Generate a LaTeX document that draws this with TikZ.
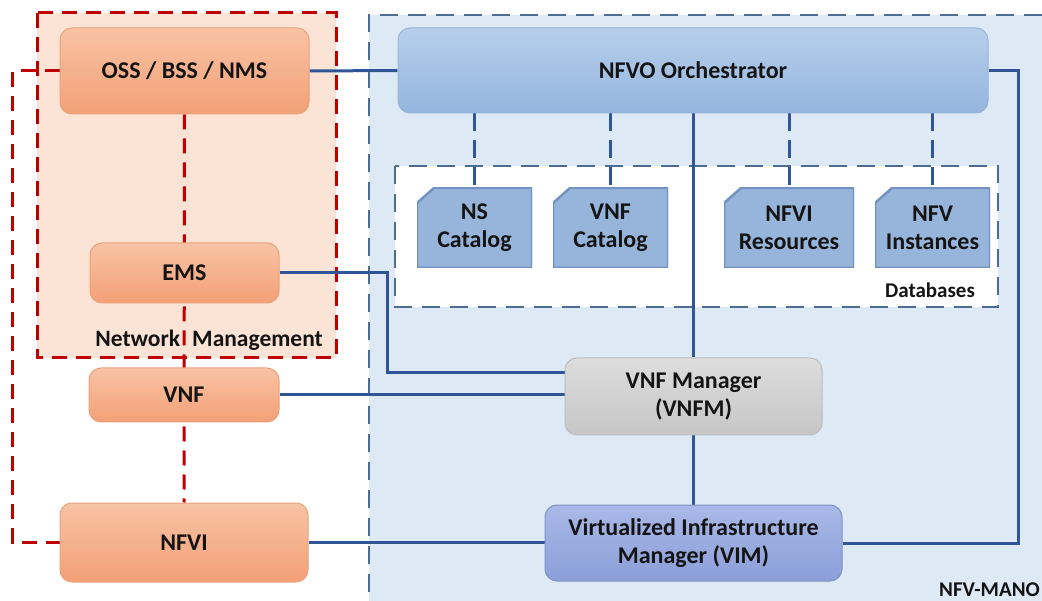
\documentclass[tikz,border=0pt]{standalone}
\usepackage{fontspec}
\setmainfont{Carlito}
\usetikzlibrary{backgrounds}
\definecolor{txt}{HTML}{141414}
\definecolor{orT}{HTML}{F8C3A5}
\definecolor{orB}{HTML}{F3A076}
\definecolor{orD}{HTML}{E9A27C}
\definecolor{peach}{HTML}{FBE4D6}
\definecolor{mgred}{HTML}{C00000}
\definecolor{manofill}{HTML}{DDEAF6}
\definecolor{manodash}{HTML}{4D6C91}
\definecolor{nfvoT}{HTML}{B6CFEC}
\definecolor{nfvoB}{HTML}{94B5DE}
\definecolor{nfvoD}{HTML}{9AB5D8}
\definecolor{catblue}{HTML}{97B5DB}
\definecolor{catedge}{HTML}{7393C0}
\definecolor{grT}{HTML}{DDDDDD}
\definecolor{grB}{HTML}{C6C6C6}
\definecolor{grD}{HTML}{BDBDBD}
\definecolor{vimT}{HTML}{A9B9E7}
\definecolor{vimB}{HTML}{8B9ED8}
\definecolor{vimD}{HTML}{7E92C8}
\definecolor{lnblue}{HTML}{2F5597}
\begin{document}
\begin{tikzpicture}[x=1pt,y=-1pt,
  font=\fontsize{24}{28}\selectfont\bfseries, text=txt,
  box/.style={rounded corners=12pt, line width=1pt, align=center, inner sep=0pt},
  orangebox/.style={box, top color=orT, bottom color=orB, draw=orD},
  nfvobox/.style={box, top color=nfvoT, bottom color=nfvoB, draw=nfvoD},
  graybox/.style={box, top color=grT, bottom color=grB, draw=grD},
  vimbox/.style={box, top color=vimT, bottom color=vimB, draw=vimD},
  catalog/.style={minimum width=115pt, minimum height=80pt, align=center, inner sep=0pt, fill=white,
    path picture={\fill[catblue, draw=catedge, line width=2.5pt]
      ([xshift=17pt]path picture bounding box.north west) -- (path picture bounding box.north east)
      -- (path picture bounding box.south east) -- (path picture bounding box.south west)
      -- ([yshift=-15pt]path picture bounding box.north west) -- cycle;}},
  lbl/.style={font=\fontsize{21}{24}\selectfont\bfseries, inner sep=0pt},
  bluelink/.style={draw=lnblue, line width=3pt},
  dashlink/.style={bluelink, dash pattern=on 18pt off 9pt},
  redlink/.style={draw=mgred, line width=3pt, dash pattern=on 15pt off 9pt},
  regiondash/.style={draw=manodash, line width=2.5pt, dash pattern=on 18pt off 10pt}]
\useasboundingbox (0,0) rectangle (1042,601);

% network management side
\node[orangebox, minimum width=249pt, minimum height=86pt] (oss) at (184.5,71) {OSS / BSS / NMS};
\node[orangebox, minimum width=189pt, minimum height=60pt] (ems) at (184.5,273) {EMS};
\node[orangebox, minimum width=190pt, minimum height=54pt] (vnf) at (184,395) {VNF};
\node[orangebox, minimum width=248pt, minimum height=79pt] (nfvi) at (184,542.5) {NFVI};
\node[lbl, font=\fontsize{23.5}{28}\selectfont\bfseries, anchor=base east] (nmlabel) at (323,347) {Network\hspace{12pt}Management};

% MANO side
\node[nfvobox, minimum width=590pt, minimum height=85pt] (nfvo) at (693,70.5) {NFVO Orchestrator};
\node[catalog] (nscat) at (474.5,228) {NS\\Catalog};
\node[catalog] (vnfcat) at (610.5,228) {VNF\\Catalog};
\node[catalog, minimum width=130pt] (nfvires) at (789,228) {NFVI\\Resources};
\node[catalog] (nfvinst) at (932.5,228) {NFV\\Instances};
\node[lbl, anchor=base] (dblabel) at (930,298) {Databases};
\node[graybox, minimum width=257pt, minimum height=77pt] (vnfm) at (693.5,396.5) {VNF Manager\\(VNFM)};
\node[vimbox, minimum width=297pt, minimum height=76pt] (vim) at (693.5,543) {Virtualized Infrastructure\\Manager (VIM)};
\node[lbl, anchor=base east] (manolabel) at (1040,596) {NFV-MANO};

\begin{pgfonlayer}{background}
% regions
\fill[white] (0,0) rectangle (1042,601);
\fill[peach] (37,13) rectangle (336,358);
\draw[redlink] (37,13) rectangle (336,358);
\fill[manofill] (369,15) rectangle (1042,601);
\draw[regiondash] (1042,15) -- (369,15) -- (369,601);
\filldraw[fill=white, regiondash] (395,166) rectangle (998,307);
% links
\draw[redlink] (oss.west) -- ++(-47,0) |- (nfvi.west);
\draw[redlink] (oss.south) -- (nfvi.north);
\draw[bluelink] (oss.east) -- (nfvo.west);
\draw[bluelink] (nfvo.east) -- ++(30,0) |- (vim.east);
\draw[bluelink] (vnfm.north |- nfvo.south) -- (vnfm.north);
\draw[bluelink] (vnfm.south) -- (vim.north);
\draw[bluelink] (ems.east) -- ++(108,0) |- ([yshift=23.5pt]vnfm.west);
\draw[bluelink] (vnf.east) -- (vnf.east -| vnfm.west);
\draw[bluelink] (nfvi.east) -- (nfvi.east -| vim.west);
\foreach \c in {nscat,vnfcat,nfvires,nfvinst}
  \draw[dashlink] (\c.north |- nfvo.south) -- (\c.north);
\end{pgfonlayer}
\end{tikzpicture}
\end{document}
